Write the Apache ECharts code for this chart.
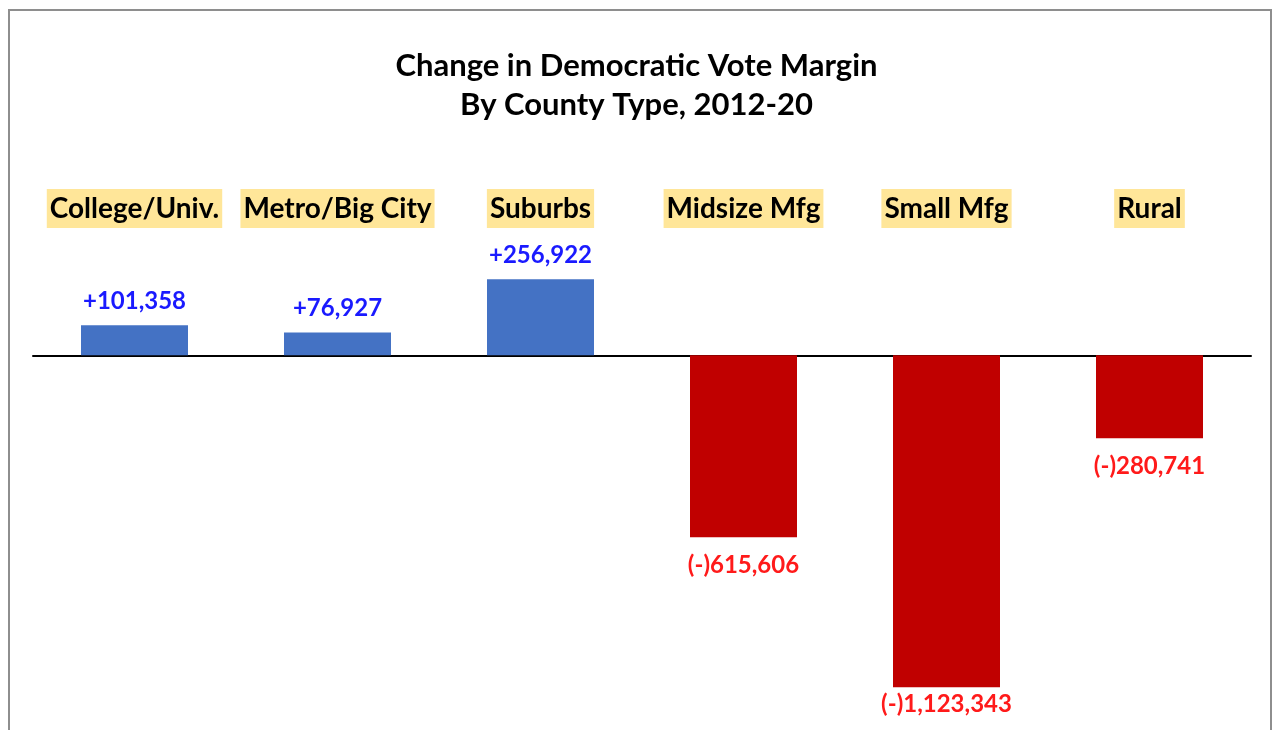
<!DOCTYPE html>
<html>
<head>
<meta charset="utf-8">
<script src="https://cdn.jsdelivr.net/npm/echarts@6/dist/echarts.min.js"></script>
<style>
html,body{margin:0;padding:0;background:#fff;}
#wrap{position:relative;width:1273px;height:730px;overflow:hidden;}
#chart{position:absolute;left:0;top:0;width:1273px;height:730px;}
#frame{position:absolute;left:8px;top:9px;width:1264px;height:740px;border:2px solid #8e8e8e;border-bottom:none;pointer-events:none;box-sizing:border-box;}
</style>
</head>
<body>
<div id="wrap"><div id="chart"></div><div id="frame"></div></div>
<script>
const titleLines = ['Change in Democratic Vote Margin', 'By County Type, 2012-20'];
const categories = ['College/Univ.', 'Metro/Big City', 'Suburbs', 'Midsize Mfg', 'Small Mfg', 'Rural'];
const marginChange = [101358, 76927, 256922, -615606, -1123343, -280741];

const FONT = 'Lato, "Open Sans", sans-serif';
const fmt = v => v >= 0 ? '+' + v.toLocaleString('en-US') : '(-)' + Math.abs(v).toLocaleString('en-US');

const chart = echarts.init(document.getElementById('chart'));
chart.setOption({
  animation: false,
  backgroundColor: '#ffffff',
  title: {
    text: titleLines.join('\n'),
    left: 'center',
    top: 41,
    textStyle: { fontFamily: FONT, fontWeight: 'bold', fontSize: 31, lineHeight: 39, color: '#000' }
  },
  grid: { left: 33, right: 22, top: 237, bottom: 20, containLabel: false },
  xAxis: [
    {
      type: 'category',
      data: categories,
      axisLine: { show: true, onZero: true, lineStyle: { color: '#000', width: 2 } },
      axisTick: { show: false },
      axisLabel: { show: false },
      splitLine: { show: false }
    },
    {
      type: 'category',
      data: categories,
      position: 'top',
      axisLine: { show: false, onZero: false },
      axisTick: { show: false },
      splitLine: { show: false },
      axisLabel: {
        show: true,
        interval: 0,
        margin: 9,
        fontFamily: FONT,
        fontWeight: 'bold',
        fontSize: 28,
        lineHeight: 30,
        color: '#000',
        backgroundColor: '#FFE699',
        padding: [5, 3, 4, 3]
      }
    }
  ],
  yAxis: {
    type: 'value',
    min: -1200000,
    max: 400000,
    show: false,
    splitLine: { show: false }
  },
  series: [{
    type: 'bar',
    xAxisIndex: 0,
    barWidth: 107,
    labelLayout: p => {
      const r = p.labelRect;
      if (r.y + r.height > 716) {
        return { x: r.x + r.width / 2, y: 716 - r.height, align: 'center', verticalAlign: 'top' };
      }
      return {};
    },
    data: marginChange.map(v => ({
      value: v,
      itemStyle: { color: v >= 0 ? '#4472C4' : '#C00000' },
      label: {
        show: true,
        position: v >= 0 ? 'top' : 'bottom',
        distance: v >= 0 ? 12 : 16,
        formatter: p => fmt(p.value),
        fontFamily: FONT,
        fontWeight: 'bold',
        fontSize: 24,
        color: v >= 0 ? '#1a1aff' : '#ff1a1a'
      }
    }))
  }]
});
</script>
</body>
</html>
